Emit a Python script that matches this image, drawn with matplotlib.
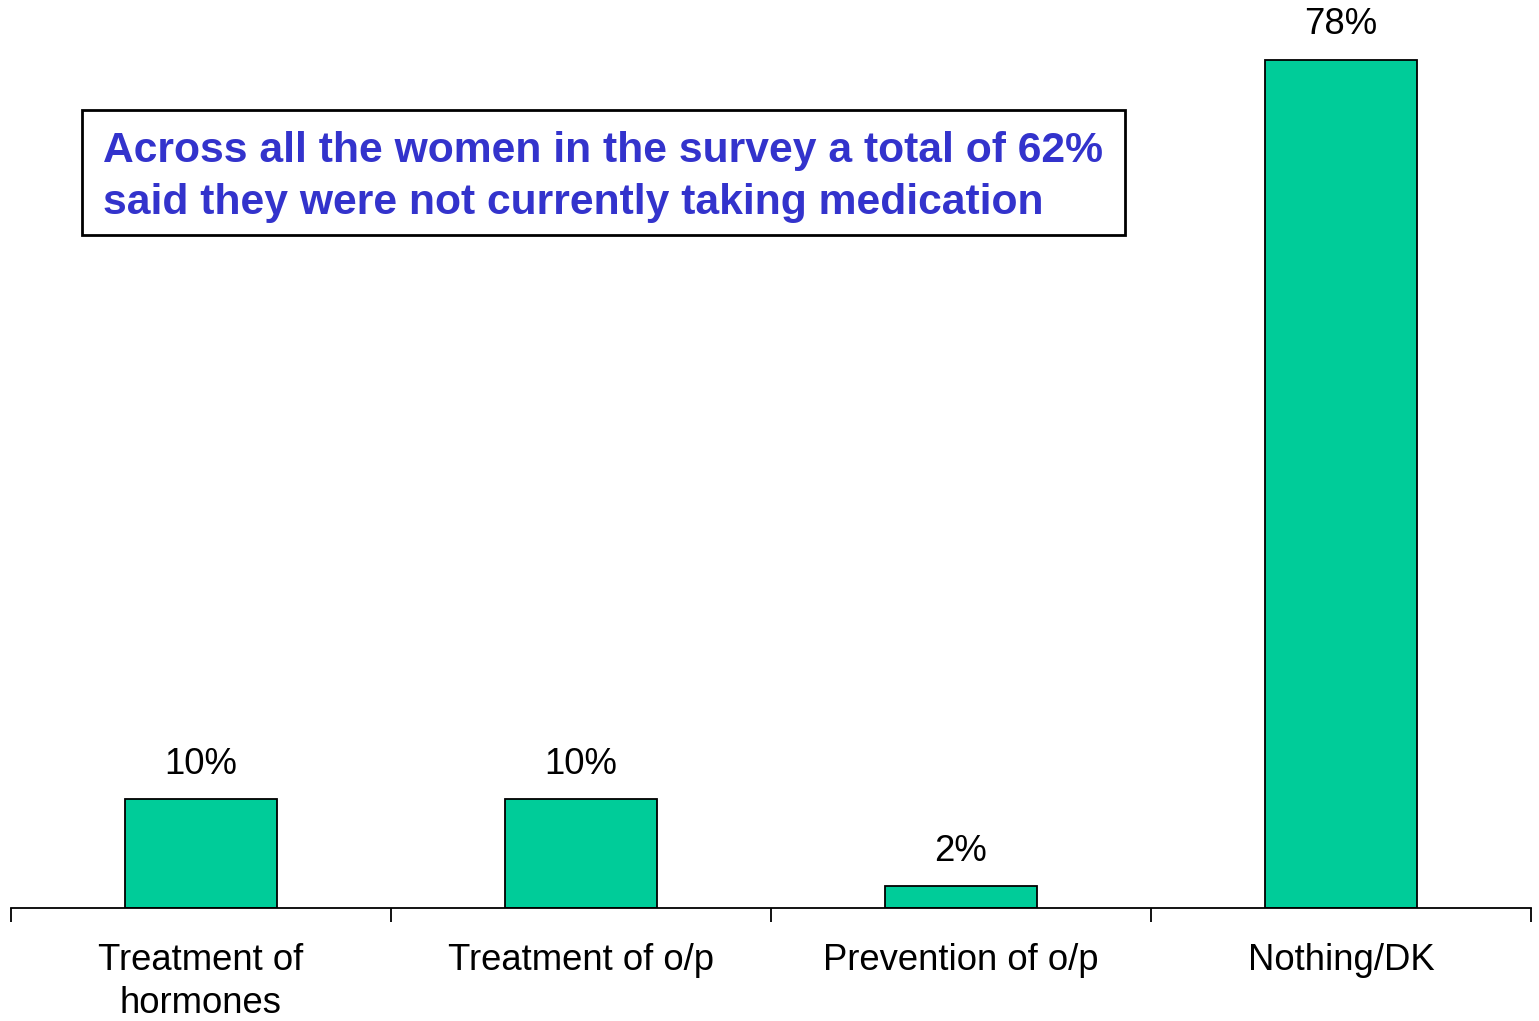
import matplotlib
matplotlib.use("Agg")
import matplotlib.pyplot as plt
from matplotlib.patches import Rectangle

categories = ["Treatment of\nhormones", "Treatment of o/p", "Prevention of o/p", "Nothing/DK"]
values = [10, 10, 2, 78]
value_labels = ["10%", "10%", "2%", "78%"]
note = "Across all the women in the survey a total of 62%\nsaid they were not currently taking medication"

plt.rcParams['font.family'] = ['Liberation Sans', 'DejaVu Sans']

W, H = 1539, 1021
fig = plt.figure(figsize=(W / 100, H / 100), dpi=100)
ax = fig.add_axes([11 / W, (H - 908) / H, 1520 / W, 908 / H])

x = list(range(len(categories)))
bars = ax.bar(x, values, width=0.4, color="#00CC99", edgecolor="black", linewidth=1.3, zorder=2)
for xi, v, lab in zip(x, values, value_labels):
    ax.annotate(lab, (xi, v), xytext=(0, 12.5), textcoords="offset points",
                ha="center", va="bottom", fontsize=26.3, color="black")

ax.set_xlim(-0.5, len(categories) - 0.5)
ax.set_ylim(0, 83.5)
for s in ["top", "right", "left"]:
    ax.spines[s].set_visible(False)
ax.spines["bottom"].set_linewidth(1.3)
ax.set_yticks([])
ax.set_xticks([i - 0.5 for i in range(len(categories) + 1)])
ax.set_xticklabels([])
ax.tick_params(axis="x", which="major", length=10, width=1.3, direction="out")
ax.set_xticks(x, minor=True)
ax.set_xticklabels(categories, minor=True, fontsize=26.3, linespacing=1.27)
ax.tick_params(axis="x", which="minor", length=0, pad=25.5)

# annotation box
fig.patches.append(Rectangle((82 / W, (H - 235) / H), (1125 - 82) / W, (235 - 110) / H,
                             transform=fig.transFigure, fill=True, facecolor="white",
                             edgecolor="black", linewidth=2, zorder=3))
fig.text(103 / W, (H - 131) / H, note, ha="left", va="top", fontsize=30.7,
         fontweight="bold", color="#3333CC", linespacing=1.38, zorder=4)

fig.savefig("out.png", dpi=100, facecolor="white")
